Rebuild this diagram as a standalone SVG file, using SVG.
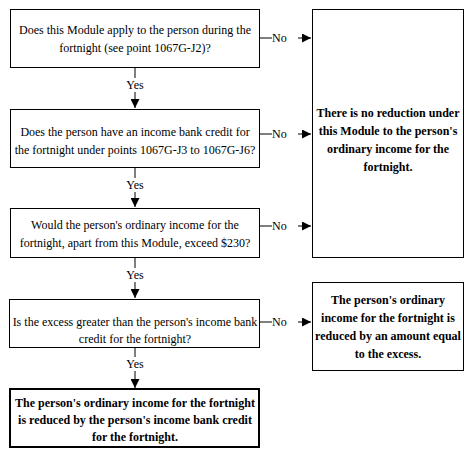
<svg xmlns="http://www.w3.org/2000/svg" width="474" height="452" viewBox="0 0 474 452">
<defs>
<marker id="ah" viewBox="0 0 10 10" refX="10" refY="5" markerWidth="9" markerHeight="9" markerUnits="userSpaceOnUse" orient="auto">
<path d="M0,0 L10,5 L0,10 Z" fill="#000"/>
</marker>
</defs>
<style>
.box{fill:#fff;stroke:#000;stroke-width:1}
.bold{stroke-width:2}
.t{font-family:"Liberation Serif","Times New Roman",serif;font-size:12px;fill:#000;text-anchor:middle}
.b{font-weight:bold}
.ln{stroke:#000;stroke-width:1;fill:none}
.lbl{font-family:"Liberation Serif","Times New Roman",serif;font-size:12px;fill:#000}
.bg{fill:#fff}
</style>
<rect width="474" height="452" fill="#fff"/>
<g id="connectors">
<line class="ln" x1="135" y1="67" x2="135" y2="108" marker-end="url(#ah)"/>
<line class="ln" x1="135" y1="167" x2="135" y2="207" marker-end="url(#ah)"/>
<line class="ln" x1="135" y1="257" x2="135" y2="298" marker-end="url(#ah)"/>
<line class="ln" x1="135" y1="347" x2="135" y2="388" marker-end="url(#ah)"/>
<rect class="bg" x="124" y="78" width="22" height="14"/>
<text class="lbl" x="135" y="89" text-anchor="middle">Yes</text>
<rect class="bg" x="124" y="178" width="22" height="14"/>
<text class="lbl" x="135" y="189" text-anchor="middle">Yes</text>
<rect class="bg" x="124" y="268" width="22" height="14"/>
<text class="lbl" x="135" y="279" text-anchor="middle">Yes</text>
<rect class="bg" x="124" y="357" width="22" height="14"/>
<text class="lbl" x="135" y="368" text-anchor="middle">Yes</text>
<line class="ln" x1="259" y1="38" x2="311" y2="38" stroke-width="1.5" marker-end="url(#ah)"/>
<line class="ln" x1="259" y1="134" x2="311" y2="134" marker-end="url(#ah)"/>
<line class="ln" x1="259" y1="226" x2="311" y2="226" marker-end="url(#ah)"/>
<line class="ln" x1="259" y1="322" x2="311" y2="322" marker-end="url(#ah)"/>
<rect class="bg" x="272" y="31" width="26" height="14"/>
<text class="lbl" x="272" y="42">No</text>
<rect class="bg" x="272" y="127" width="26" height="14"/>
<text class="lbl" x="272" y="138">No</text>
<rect class="bg" x="272" y="219" width="26" height="14"/>
<text class="lbl" x="272" y="230">No</text>
<rect class="bg" x="272" y="315" width="26" height="14"/>
<text class="lbl" x="272" y="326">No</text>
</g>
<g id="q1">
<rect class="box" x="10.5" y="9.5" width="249" height="58"/>
<text class="t" x="135" y="34">Does this Module apply to the person during the</text>
<text class="t" x="135" y="52">fortnight (see point 1067G-J2)?</text>
</g>
<g id="q2">
<rect class="box" x="10.5" y="109.5" width="249" height="58"/>
<text class="t" x="135" y="136">Does the person have an income bank credit for</text>
<text class="t" x="135" y="154">the fortnight under points 1067G-J3 to 1067G-J6?</text>
</g>
<g id="q3">
<rect class="box" x="10.5" y="208.5" width="249" height="49"/>
<text class="t" x="135" y="229">Would the person's ordinary income for the</text>
<text class="t" x="135" y="247">fortnight, apart from this Module, exceed $230?</text>
</g>
<g id="q4">
<rect class="box" x="9.5" y="299.5" width="250" height="48"/>
<text class="t" x="135" y="326">Is the excess greater than the person's income bank</text>
<text class="t" x="135" y="343">credit for the fortnight?</text>
</g>
<g id="r-reduced-credit">
<rect class="box bold" x="10" y="389" width="249" height="58"/>
<text class="t b" x="135" y="407">The person's ordinary income for the fortnight</text>
<text class="t b" x="135" y="424">is reduced by the person's income bank credit</text>
<text class="t b" x="135" y="441">for the fortnight.</text>
</g>
<g id="r-no-reduction">
<rect class="box" x="312.5" y="9.5" width="151" height="248"/>
<text class="t b" x="388" y="117">There is no reduction under</text>
<text class="t b" x="388" y="135">this Module to the person's</text>
<text class="t b" x="388" y="153">ordinary income for the</text>
<text class="t b" x="388" y="171">fortnight.</text>
</g>
<g id="r-reduced-excess">
<rect class="box" x="312.5" y="282.5" width="151" height="88"/>
<text class="t b" x="388" y="304">The person's ordinary</text>
<text class="t b" x="388" y="322">income for the fortnight is</text>
<text class="t b" x="388" y="340">reduced by an amount equal</text>
<text class="t b" x="388" y="358">to the excess.</text>
</g>
</svg>
